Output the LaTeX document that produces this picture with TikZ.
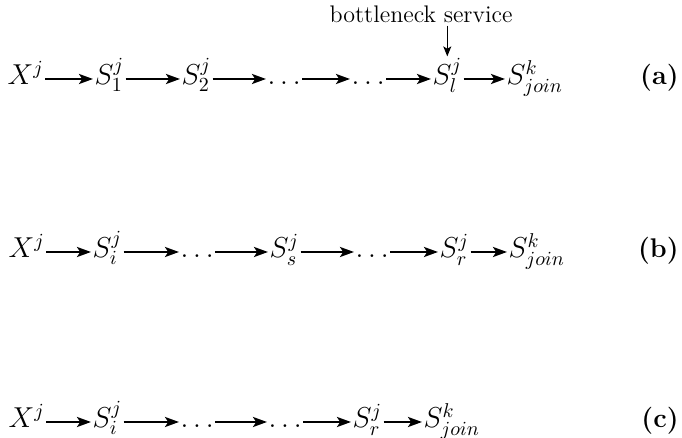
\documentclass[tikz,border=0pt]{standalone}
\usetikzlibrary{arrows.meta}
\begin{document}
\begin{tikzpicture}[x=0.5pt,y=-0.5pt,
  lbl/.style={anchor=base west,inner sep=0.6pt,font=\fontsize{14.8}{17}\selectfont},
  tag/.style={anchor=base east,inner sep=0pt,font=\fontsize{13.5}{16}\selectfont\bfseries},
  flow/.style={-{Stealth[length=7pt,width=5pt,inset=1.6pt]},line width=1.2pt},
  pointer/.style={-{Stealth[length=5pt,width=4pt,inset=1.2pt]},line width=0.7pt}]
\useasboundingbox (0,0) rectangle (682,438);
% row (a)
\node[lbl] (ax) at (6,85) {$X^j$};
\node[lbl] (a1) at (93,85) {$S_1^j$};
\node[lbl] (a2) at (180,85) {$S_2^j$};
\node[lbl] (ad1) at (266,85) {$\ldots$};
\node[lbl] (ad2) at (350,85) {$\ldots$};
\node[lbl] (al) at (431,85) {$S_l^j$};
\node[lbl] (aj) at (505,85) {$S_{join}^k$};
\node[tag] (ta) at (679,85) {(a)};
\node[anchor=base,inner sep=1pt,font=\large] (bn) at (421,23) {bottleneck service};
\foreach \s/\t in {ax/a1,a1/a2,a2/ad1,ad1/ad2,ad2/al,al/aj}
  \draw[flow] ([yshift=3pt]\s.base east) -- ([yshift=3pt]\t.base west);
\draw[pointer] (al.north |- bn.south) -- (al.north);
% row (b)
\node[lbl] (bx) at (7,258) {$X^j$};
\node[lbl] (bi) at (91,258) {$S_i^j$};
\node[lbl] (bd1) at (179,258) {$\ldots$};
\node[lbl] (bs) at (268,258) {$S_s^j$};
\node[lbl] (bd2) at (354,258) {$\ldots$};
\node[lbl] (br) at (438,258) {$S_r^j$};
\node[lbl] (bj) at (507,258) {$S_{join}^k$};
\node[tag] (tb) at (679,258) {(b)};
\foreach \s/\t in {bx/bi,bi/bd1,bd1/bs,bs/bd2,bd2/br,br/bj}
  \draw[flow] ([yshift=3pt]\s.base east) -- ([yshift=3pt]\t.base west);
% row (c)
\node[lbl] (cx) at (7,428) {$X^j$};
\node[lbl] (ci) at (91,428) {$S_i^j$};
\node[lbl] (cd1) at (179,428) {$\ldots$};
\node[lbl] (cd2) at (267,428) {$\ldots$};
\node[lbl] (cr) at (351,428) {$S_r^j$};
\node[lbl] (cj) at (422,428) {$S_{join}^k$};
\node[tag] (tc) at (679,428) {(c)};
\foreach \s/\t in {cx/ci,ci/cd1,cd1/cd2,cd2/cr,cr/cj}
  \draw[flow] ([yshift=3pt]\s.base east) -- ([yshift=3pt]\t.base west);
\end{tikzpicture}
\end{document}
